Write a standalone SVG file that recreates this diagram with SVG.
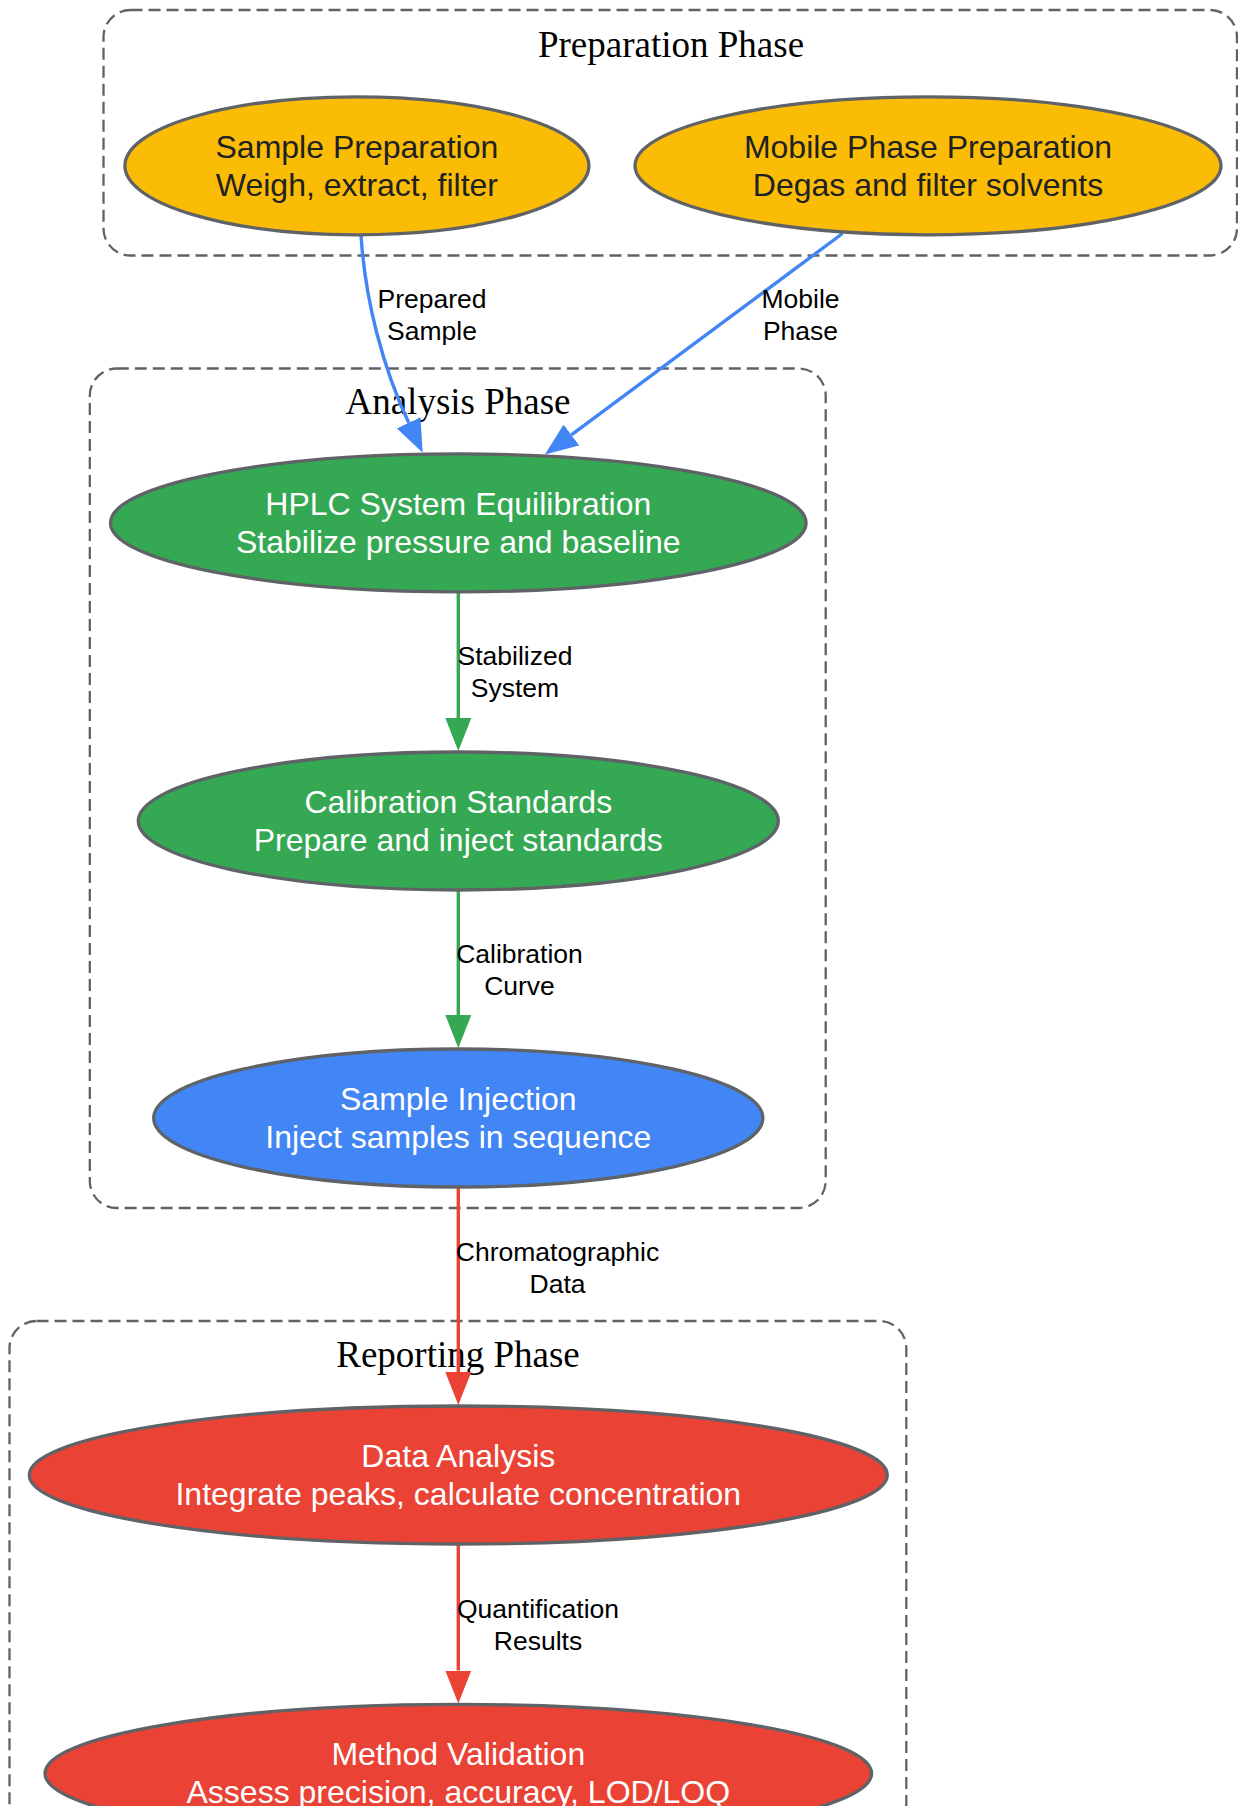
<svg xmlns="http://www.w3.org/2000/svg" width="1238" height="1806" viewBox="0 0 1238 1806">
<style>
.cluster{fill:none;stroke:#5f6368;stroke-width:2.3;stroke-dasharray:12,6}
.clabel{font-family:"Liberation Serif","Times New Roman",serif;font-size:37px;fill:#000;text-anchor:middle}
.node{stroke:#5f6368;stroke-width:3.3}
.ntext{font-family:"Liberation Sans",Arial,sans-serif;font-size:32px;text-anchor:middle}
.dark{fill:#202124}
.light{fill:#ffffff}
.elabel{font-family:"Liberation Sans",Arial,sans-serif;font-size:26.5px;fill:#000;text-anchor:middle}
.edge{fill:none;stroke-width:3.4}
</style>
<defs>
<marker id="ahBlue" markerUnits="userSpaceOnUse" markerWidth="33" markerHeight="26" viewBox="0 0 33 26" refX="0" refY="13" orient="auto"><path d="M0,0 L33,13 L0,26 z" fill="#4285F4"/></marker>
<marker id="ahGreen" markerUnits="userSpaceOnUse" markerWidth="33" markerHeight="26" viewBox="0 0 33 26" refX="0" refY="13" orient="auto"><path d="M0,0 L33,13 L0,26 z" fill="#34A853"/></marker>
<marker id="ahRed" markerUnits="userSpaceOnUse" markerWidth="33" markerHeight="26" viewBox="0 0 33 26" refX="0" refY="13" orient="auto"><path d="M0,0 L33,13 L0,26 z" fill="#EA4335"/></marker>
</defs>
<rect width="1238" height="1806" fill="#ffffff"/>

<g id="cluster_preparation">
<rect class="cluster" x="103.5" y="10" width="1133.5" height="245.5" rx="27" ry="27"/>
<text class="clabel" x="671" y="56.5">Preparation Phase</text>
</g>
<g id="cluster_analysis">
<rect class="cluster" x="89.8" y="368.5" width="735.9" height="839.5" rx="27" ry="27"/>
<text class="clabel" x="458" y="413.5">Analysis Phase</text>
</g>
<g id="cluster_reporting">
<rect class="cluster" x="9.5" y="1321" width="896.8" height="600" rx="27" ry="27"/>
<text class="clabel" x="458" y="1366.5">Reporting Phase</text>
</g>

<g id="connectors">
<path class="edge" stroke="#4285F4" d="M361,235 C365,300 383,368 408.7,422.8" marker-end="url(#ahBlue)"/>
<path class="edge" stroke="#4285F4" d="M842.5,233.5 L571.4,434.9" marker-end="url(#ahBlue)"/>
<path class="edge" stroke="#34A853" d="M458.3,592 L458.3,718" marker-end="url(#ahGreen)"/>
<path class="edge" stroke="#34A853" d="M458.3,890 L458.3,1015" marker-end="url(#ahGreen)"/>
<path class="edge" stroke="#EA4335" d="M458.3,1187 L458.3,1372" marker-end="url(#ahRed)"/>
<path class="edge" stroke="#EA4335" d="M458.3,1544 L458.3,1670.5" marker-end="url(#ahRed)"/>
<text class="elabel" x="432" y="308">Prepared</text>
<text class="elabel" x="432" y="340">Sample</text>
<text class="elabel" x="800.5" y="308">Mobile</text>
<text class="elabel" x="800.5" y="340">Phase</text>
<text class="elabel" x="515" y="665">Stabilized</text>
<text class="elabel" x="515" y="697">System</text>
<text class="elabel" x="519.5" y="963">Calibration</text>
<text class="elabel" x="519.5" y="995">Curve</text>
<text class="elabel" x="557.5" y="1261">Chromatographic</text>
<text class="elabel" x="557.5" y="1293">Data</text>
<text class="elabel" x="538" y="1618">Quantification</text>
<text class="elabel" x="538" y="1650">Results</text>
</g>

<g id="node_sample_prep">
<ellipse class="node" cx="356.9" cy="165.8" rx="232" ry="69" fill="#FBBC05"/>
<text class="ntext dark" x="356.9" y="158">Sample Preparation</text>
<text class="ntext dark" x="356.9" y="196">Weigh, extract, filter</text>
</g>
<g id="node_mobile_prep">
<ellipse class="node" cx="928" cy="165.8" rx="293" ry="69" fill="#FBBC05"/>
<text class="ntext dark" x="928" y="158">Mobile Phase Preparation</text>
<text class="ntext dark" x="928" y="196">Degas and filter solvents</text>
</g>
<g id="node_hplc">
<ellipse class="node" cx="458.3" cy="522.9" rx="347.8" ry="69" fill="#34A853"/>
<text class="ntext light" x="458.3" y="515">HPLC System Equilibration</text>
<text class="ntext light" x="458.3" y="553">Stabilize pressure and baseline</text>
</g>
<g id="node_calibration">
<ellipse class="node" cx="458.3" cy="821" rx="320" ry="69" fill="#34A853"/>
<text class="ntext light" x="458.3" y="813">Calibration Standards</text>
<text class="ntext light" x="458.3" y="851">Prepare and inject standards</text>
</g>
<g id="node_injection">
<ellipse class="node" cx="458.3" cy="1118" rx="304.6" ry="69" fill="#4285F4"/>
<text class="ntext light" x="458.3" y="1110">Sample Injection</text>
<text class="ntext light" x="458.3" y="1148">Inject samples in sequence</text>
</g>
<g id="node_data_analysis">
<ellipse class="node" cx="458.3" cy="1475" rx="429" ry="69" fill="#EA4335"/>
<text class="ntext light" x="458.3" y="1467">Data Analysis</text>
<text class="ntext light" x="458.3" y="1505">Integrate peaks, calculate concentration</text>
</g>
<g id="node_validation">
<ellipse class="node" cx="458.3" cy="1773.4" rx="413.3" ry="69" fill="#EA4335"/>
<text class="ntext light" x="458.3" y="1765">Method Validation</text>
<text class="ntext light" x="458.3" y="1803">Assess precision, accuracy, LOD/LOQ</text>
</g>
</svg>
